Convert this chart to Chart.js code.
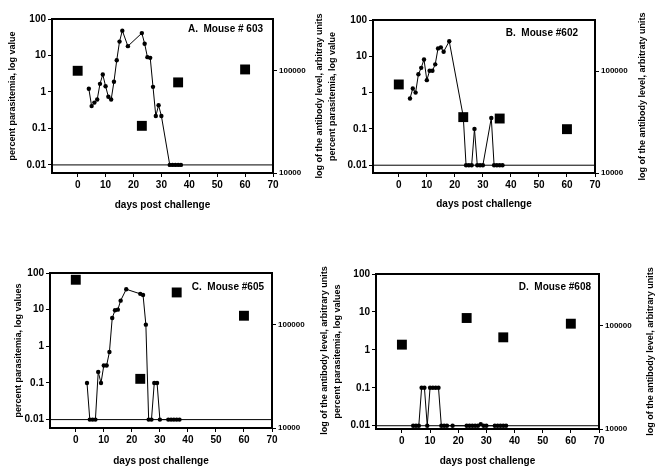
<!DOCTYPE html>
<html>
<head>
<meta charset="utf-8">
<script src="https://cdn.jsdelivr.net/npm/chart.js@4.4.0/dist/chart.umd.min.js"></script>
<style>
  body { margin: 0; background: #fff; }
  #wrap { position: relative; width: 669px; height: 473px; overflow: hidden; }
  canvas { position: absolute; }
</style>
</head>
<body>
<div id="wrap">
  <canvas id="panelA" width="330" height="215" style="left:0px;top:0px"></canvas>
  <canvas id="panelB" width="344" height="215" style="left:325px;top:0px"></canvas>
  <canvas id="panelC" width="330" height="238" style="left:0px;top:235px"></canvas>
  <canvas id="panelD" width="344" height="238" style="left:325px;top:235px"></canvas>
</div>
<script>
// sampling days for parasitemia (same for every mouse)
const sampleDays = [4, 5, 6, 7, 8, 9, 10, 11, 12, 13, 14, 15, 16, 18, 23, 24, 25, 26, 27, 28, 29, 30, 33, 34, 35, 36, 37];

// percent parasitemia
const parasA = [1.22, 0.41, 0.51, 0.62, 1.67, 3.0, 1.44, 0.74, 0.62, 1.9, 7.4, 24, 48, 18, 41, 21, 9, 8.6, 1.38, 0.22, 0.43, 0.22, 0.01, 0.01, 0.01, 0.01, 0.01];
const parasB = [0.69, 1.3, 1.0, 3.2, 4.8, 8.2, 2.2, 4.0, 4.0, 6.0, 16.5, 17.6, 13.4, 26, 0.22, 0.01, 0.01, 0.01, 0.1, 0.01, 0.01, 0.01, 0.2, 0.01, 0.01, 0.01, 0.01];
const parasC = [0.1, 0.01, 0.01, 0.01, 0.2, 0.1, 0.3, 0.3, 0.7, 5.9, 9.6, 10, 17.6, 36, 27, 25, 3.9, 0.01, 0.01, 0.1, 0.1, 0.01, 0.01, 0.01, 0.01, 0.01, 0.01];
const parasD = [0.01, 0.01, 0.01, 0.1, 0.1, 0.01, 0.1, 0.1, 0.1, 0.1, 0.01, 0.01, 0.01, 0.01, 0.01, 0.01, 0.01, 0.01, 0.01, 0.011, 0.01, 0.01, 0.01, 0.01, 0.01, 0.01, 0.01];

// antibody level, arbitrary units
const antibodyDays = [0, 23, 36, 60];
const antibodyA = [99000, 28800, 76300, 102000];
const antibodyB = [73800, 35300, 34200, 26900];
const antibodyC = [272000, 29900, 205000, 122000];
const antibodyD = [65500, 118600, 77100, 104500];

// axes
const parasTicks = [0.01, 0.1, 1, 10, 100];
const antibodyTicks = [10000, 100000];
const dayTicks = [0, 10, 20, 30, 40, 50, 60, 70];
const detectionLimit = 0.01;
const dayMin = -9.2, dayMax = 70;
const parasMax = 100;
const antibodyMin = 10000, antibodyMax = 316228;

const FONT = '"Liberation Sans", Arial, sans-serif';
Chart.defaults.font.family = FONT;
Chart.defaults.color = '#000';

const panelDecor = {
  id: 'panelDecor',
  afterDatasetsDraw(chart, args, o) {
    const { ctx, chartArea: a } = chart;
    ctx.save();
    ctx.strokeStyle = '#000';
    ctx.lineWidth = 2;
    ctx.strokeRect(a.left, a.top, a.right - a.left, a.bottom - a.top);
    ctx.fillStyle = '#000';
    ctx.font = 'bold 10px ' + FONT;
    ctx.textAlign = 'right';
    ctx.textBaseline = 'middle';
    ctx.fillText(o.title, a.right - o.titleInset, a.top + o.titleDrop);
    // right axis title reads bottom to top
    ctx.font = 'bold 9px ' + FONT;
    ctx.translate(a.right + o.rightGap, (a.top + a.bottom) / 2);
    ctx.rotate(-Math.PI / 2);
    ctx.textAlign = 'center';
    ctx.fillText(o.rightTitle, 0, 0);
    ctx.restore();
  }
};

const panels = [
  { id: 'panelA', title: 'A.  Mouse # 603', yTitle: 'percent parasitemia, log value',
    rightTitle: 'log of the antibody level, arbitray units', paras: parasA, antibody: antibodyA,
    yMin: 0.006, yW: 52, y2W: 57, padTop: 19, xH: 42, yPad: 7.6, xPad: 4, rightGap: 47, titleInset: 10, titleDrop: 10 },
  { id: 'panelB', title: 'B.  Mouse #602', yTitle: 'percent parasitemia, log value',
    rightTitle: 'log of the antibody level, arbitraty units', paras: parasB, antibody: antibodyB,
    yMin: 0.0061, yW: 48, y2W: 74, padTop: 20, xH: 42, yPad: 2.6, xPad: 5, rightGap: 48, titleInset: 17, titleDrop: 13 },
  { id: 'panelC', title: 'C.  Mouse #605', yTitle: 'percent parasitemia, log values',
    rightTitle: 'log of the antibody level, arbitrary units', paras: parasC, antibody: antibodyC,
    yMin: 0.0059, yW: 50, y2W: 58, padTop: 38, xH: 45, yPad: 12.9, xPad: 6, rightGap: 53, titleInset: 8, titleDrop: 14 },
  { id: 'panelD', title: 'D.  Mouse #608', yTitle: 'percent parasitemia, log values',
    rightTitle: 'log of the antibody level, arbitrary units', paras: parasD, antibody: antibodyD,
    yMin: 0.0082, yW: 51, y2W: 70, padTop: 39, xH: 44, yPad: 7.6, xPad: 6, rightGap: 52, titleInset: 8, titleDrop: 13 }
];

const tickGrid = { display: true, drawOnChartArea: false, drawTicks: true, tickLength: 4, color: '#000', lineWidth: 1 };

panels.forEach(p => {
  new Chart(document.getElementById(p.id), {
    type: 'line',
    data: {
      datasets: [
        {
          data: [{ x: dayMin, y: detectionLimit }, { x: dayMax, y: detectionLimit }],
          yAxisID: 'y', borderColor: '#000', borderWidth: 1, pointRadius: 0
        },
        {
          data: sampleDays.map((d, i) => ({ x: d, y: p.paras[i] })),
          yAxisID: 'y', borderColor: '#000', borderWidth: 1,
          pointRadius: 2.2, pointBackgroundColor: '#000', pointBorderWidth: 0
        },
        {
          data: antibodyDays.map((d, i) => ({ x: d, y: p.antibody[i] })),
          yAxisID: 'y2', showLine: false, pointStyle: 'rect',
          pointRadius: 7, pointBackgroundColor: '#000', pointBorderWidth: 0
        }
      ]
    },
    options: {
      responsive: false,
      animation: false,
      devicePixelRatio: 1,
      layout: { padding: { top: p.padTop, left: 0, right: 0, bottom: 0 } },
      plugins: {
        legend: { display: false },
        tooltip: { enabled: false },
        panelDecor: { title: p.title, titleInset: p.titleInset, titleDrop: p.titleDrop,
                      rightTitle: p.rightTitle, rightGap: p.rightGap }
      },
      scales: {
        x: {
          type: 'linear', min: dayMin, max: dayMax,
          afterFit: s => { s.height = p.xH; },
          afterBuildTicks: s => { s.ticks = dayTicks.map(v => ({ value: v })); },
          grid: tickGrid,
          border: { display: false },
          ticks: { color: '#000', autoSkip: false, maxRotation: 0, padding: 2,
                   font: { size: 10, weight: 'bold' }, callback: v => String(v) },
          title: { display: true, text: 'days post challenge', color: '#000',
                   font: { size: 10, weight: 'bold' }, padding: { top: 0, bottom: p.xPad } }
        },
        y: {
          type: 'logarithmic', position: 'left', min: p.yMin, max: parasMax,
          afterFit: s => { s.width = p.yW; },
          afterBuildTicks: s => { s.ticks = parasTicks.map(v => ({ value: v })); },
          grid: tickGrid,
          border: { display: false },
          ticks: { color: '#000', autoSkip: false, padding: 2,
                   font: { size: 10, weight: 'bold' }, callback: v => String(v) },
          title: { display: true, text: p.yTitle, color: '#000',
                   font: { size: 9, weight: 'bold' }, padding: { top: p.yPad, bottom: 0 } }
        },
        y2: {
          type: 'logarithmic', position: 'right', min: antibodyMin, max: antibodyMax,
          afterFit: s => { s.width = p.y2W; },
          afterBuildTicks: s => { s.ticks = antibodyTicks.map(v => ({ value: v })); },
          grid: tickGrid,
          border: { display: false },
          ticks: { color: '#000', autoSkip: false, padding: 2,
                   font: { size: 8, weight: 'bold' }, callback: v => String(v) }
        }
      }
    },
    plugins: [panelDecor]
  });
});
</script>
</body>
</html>
